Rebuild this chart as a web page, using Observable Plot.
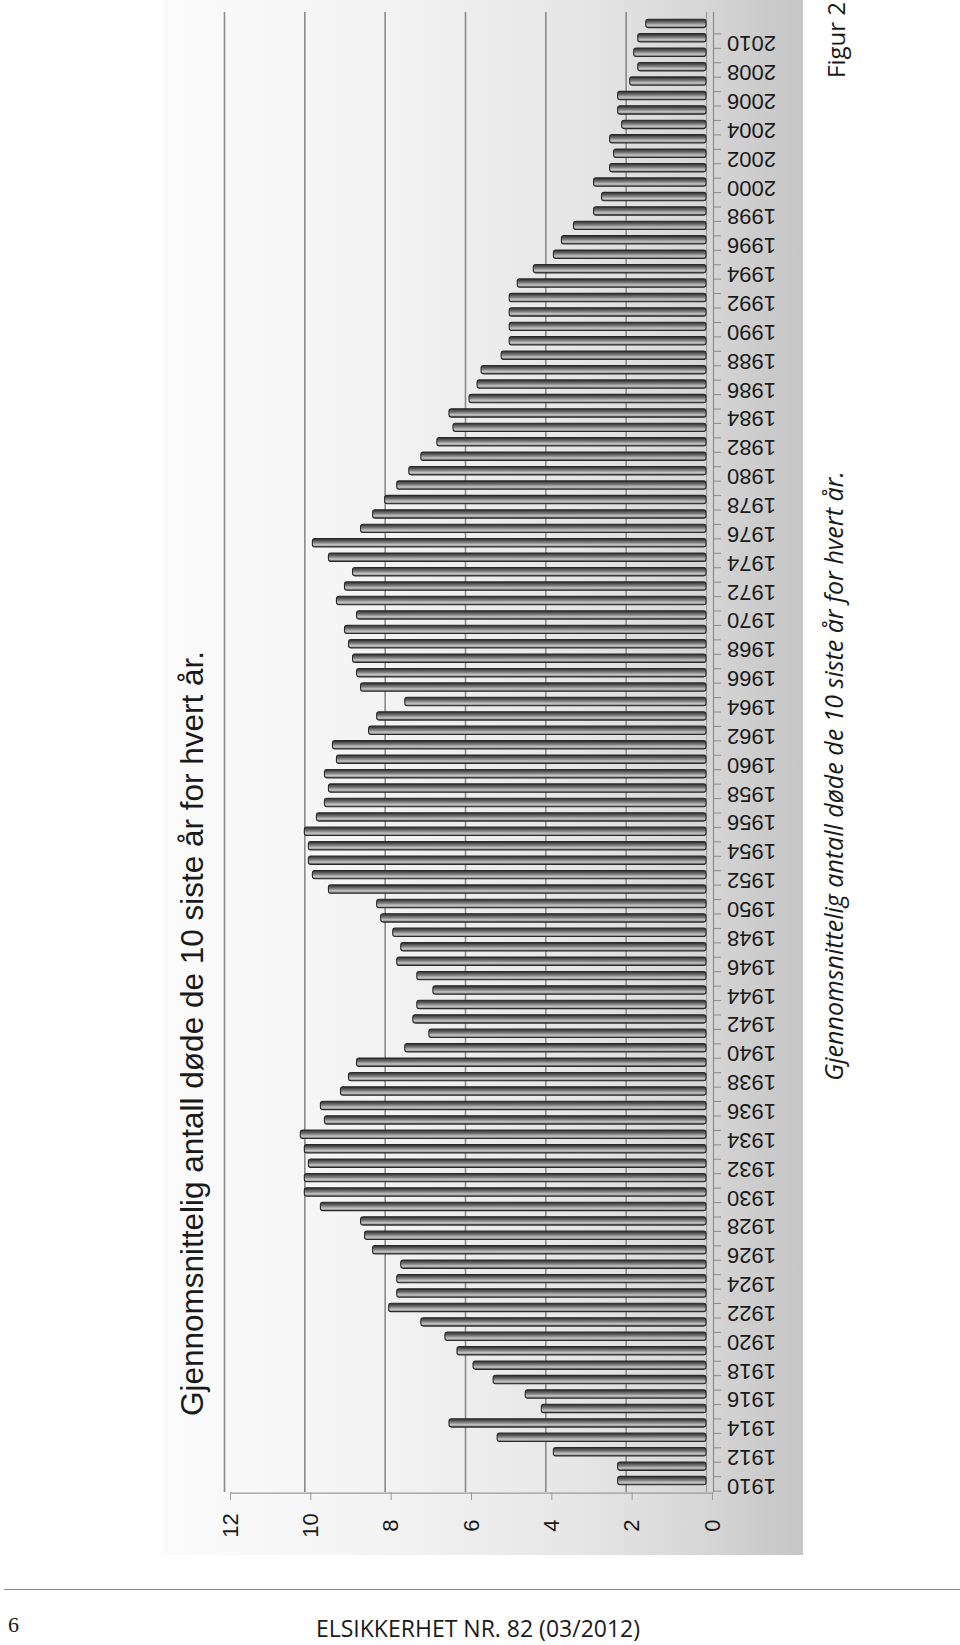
<!DOCTYPE html>
<html>
<head>
<meta charset="utf-8">
<script src="https://cdn.jsdelivr.net/npm/d3@7"></script>
<script src="https://cdn.jsdelivr.net/npm/@observablehq/plot@0.6"></script>
<style>
  body { margin: 0; background: #fff; }
  #page { position: relative; width: 960px; height: 1645px; overflow: hidden; background: #fff; }
  #panel { position: absolute; left: 163px; top: 0; width: 640px; height: 1555px;
    background: linear-gradient(to right, #fbfbfb 0%, #f3f3f3 35%, #e6e6e6 65%, #d6d6d6 85%, #cbcbcb 94%, #c6c6c6 100%); }
  #chart { position: absolute; left: 163px; top: 0; }
  .rot { position: absolute; white-space: nowrap; transform: translate(-50%, -50%) rotate(-90deg); color: #1a1a1a; }
  #caption { left: 833px; top: 776px; font-family: "Open Sans", sans-serif; font-style: italic; font-size: 25px; }
  #fig { left: 835px; top: 40px; font-family: "Open Sans", sans-serif; font-size: 24px; }
  #rule { position: absolute; left: 4px; top: 1589px; width: 956px; border-top: 1.5px solid #8a8a8a; }
  #pageno { position: absolute; left: 8px; top: 1612px; font-family: "Liberation Serif", serif; font-size: 22px; color: #1a1a1a; }
  #footer { position: absolute; left: 478px; top: 1628px; transform: translate(-50%, -50%); white-space: nowrap;
    font-family: "Open Sans", sans-serif; font-size: 23px; color: #1a1a1a; }
</style>
</head>
<body>
<div id="page">
  <div id="panel"></div>
  <div id="chart"></div>
  <div id="caption" class="rot"></div>
  <div id="fig" class="rot"></div>
  <div id="rule"></div>
  <div id="pageno"></div>
  <div id="footer"></div>
</div>
<script>
const years = d3.range(1910, 2012);
const values = [
  2.2, 2.2, 3.8, 5.2, 6.4, 4.1, 4.5, 5.3, 5.8, 6.2,   // 1910-1919
  6.5, 7.1, 7.9, 7.7, 7.7, 7.6, 8.3, 8.5, 8.6, 9.6,   // 1920-1929
  10.0, 10.0, 9.9, 10.0, 10.1, 9.5, 9.6, 9.1, 8.9, 8.7, // 1930-1939
  7.5, 6.9, 7.3, 7.2, 6.8, 7.2, 7.7, 7.6, 7.8, 8.1,   // 1940-1949
  8.2, 9.4, 9.8, 9.9, 9.9, 10.0, 9.7, 9.5, 9.4, 9.5,  // 1950-1959
  9.2, 9.3, 8.4, 8.2, 7.5, 8.6, 8.7, 8.8, 8.9, 9.0,   // 1960-1969
  8.7, 9.2, 9.0, 8.8, 9.4, 9.8, 8.6, 8.3, 8.0, 7.7,   // 1970-1979
  7.4, 7.1, 6.7, 6.3, 6.4, 5.9, 5.7, 5.6, 5.1, 4.9,   // 1980-1989
  4.9, 4.9, 4.9, 4.7, 4.3, 3.8, 3.6, 3.3, 2.8, 2.6,   // 1990-1999
  2.8, 2.4, 2.3, 2.4, 2.1, 2.2, 2.2, 1.9, 1.7, 1.8,   // 2000-2009
  1.7, 1.5                                            // 2010-2011
];
const yearLabels = years.filter(y => y % 2 === 0);
const valueTicks = [0, 2, 4, 6, 8, 10, 12];
const gridTicks = [2, 4, 6, 8, 10, 12];
const title = "Gjennomsnittelig antall døde de 10 siste år for hvert år.";
const captionText = "Gjennomsnittelig antall døde de 10 siste år for hvert år.";
const figureLabel = "Figur 2";
const footerText = "ELSIKKERHET NR. 82 (03/2012)";
const pageNumber = "6";

const data = years.map((year, i) => ({year, value: values[i]}));

const chart = Plot.plot({
  width: 640,
  height: 1555,
  marginLeft: 61,
  marginRight: 97,
  marginTop: 12,
  marginBottom: 63,
  style: {background: "transparent", fontFamily: "'Liberation Sans', Arial, sans-serif", color: "#1a1a1a"},
  x: {domain: [0, 12], reverse: true, label: null},
  y: {type: "band", domain: years.slice().reverse(), paddingInner: 0.42, paddingOuter: 0.5, label: null},
  marks: [
    Plot.ruleX(gridTicks, {stroke: "#8a8a8a", strokeWidth: 1.6}),
    Plot.ruleX([0], {stroke: "#9a9a9a", strokeWidth: 1.2}),
    Plot.ruleX([0], {stroke: "#8a8a8a", strokeWidth: 1.2, dx: 7}),
    Plot.ruleY([years[0]], {y: d => d, x1: 12, x2: 0, dx: 6, dy: 12, stroke: "#9a9a9a", strokeWidth: 1.4}),
    Plot.axisX({anchor: "bottom", ticks: valueTicks, tickSize: 8, dx: 6, tickFormat: () => "", stroke: "#9a9a9a", label: null}),
    Plot.axisY({anchor: "right", tickSize: 7, dx: 7, dy: 10, tickFormat: () => "", stroke: "#8a8a8a", label: null}),
    Plot.barX(data, {x: "value", y: "year", fill: "url(#barGrad)", stroke: "#2a2a2a", strokeWidth: 1.1, rx: 2.5}),
    Plot.text(yearLabels, {y: d => d, frameAnchor: "right", textAnchor: "middle", lineAnchor: "middle", dx: 45, dy: 5, rotate: 180, fontSize: 22, text: d => String(d), fill: "#1a1a1a"}),
    Plot.text(valueTicks, {x: d => d, frameAnchor: "bottom", textAnchor: "middle", lineAnchor: "middle", dx: 6, dy: 33, rotate: -90, fontSize: 22, text: d => String(d), fill: "#1a1a1a"}),
    Plot.text([title], {frameAnchor: "left", textAnchor: "middle", lineAnchor: "middle", dx: -32, dy: 281, rotate: -90, fontSize: 31.5, text: d => d, fill: "#1a1a1a"})
  ]
});

const defs = d3.select(chart).insert("defs", ":first-child");
const grad = defs.append("linearGradient").attr("id", "barGrad")
  .attr("x1", 0).attr("y1", 0).attr("x2", 0).attr("y2", 1);
[[0, "#2a2a2a"], [0.18, "#4a4a4a"], [0.45, "#7e7e7e"], [0.72, "#c4c4c4"], [0.86, "#a0a0a0"], [1, "#303030"]]
  .forEach(([o, c]) => grad.append("stop").attr("offset", o).attr("stop-color", c));

document.getElementById("chart").appendChild(chart);
document.getElementById("caption").textContent = captionText;
document.getElementById("fig").textContent = figureLabel;
document.getElementById("footer").textContent = footerText;
document.getElementById("pageno").textContent = pageNumber;
</script>
</body>
</html>
